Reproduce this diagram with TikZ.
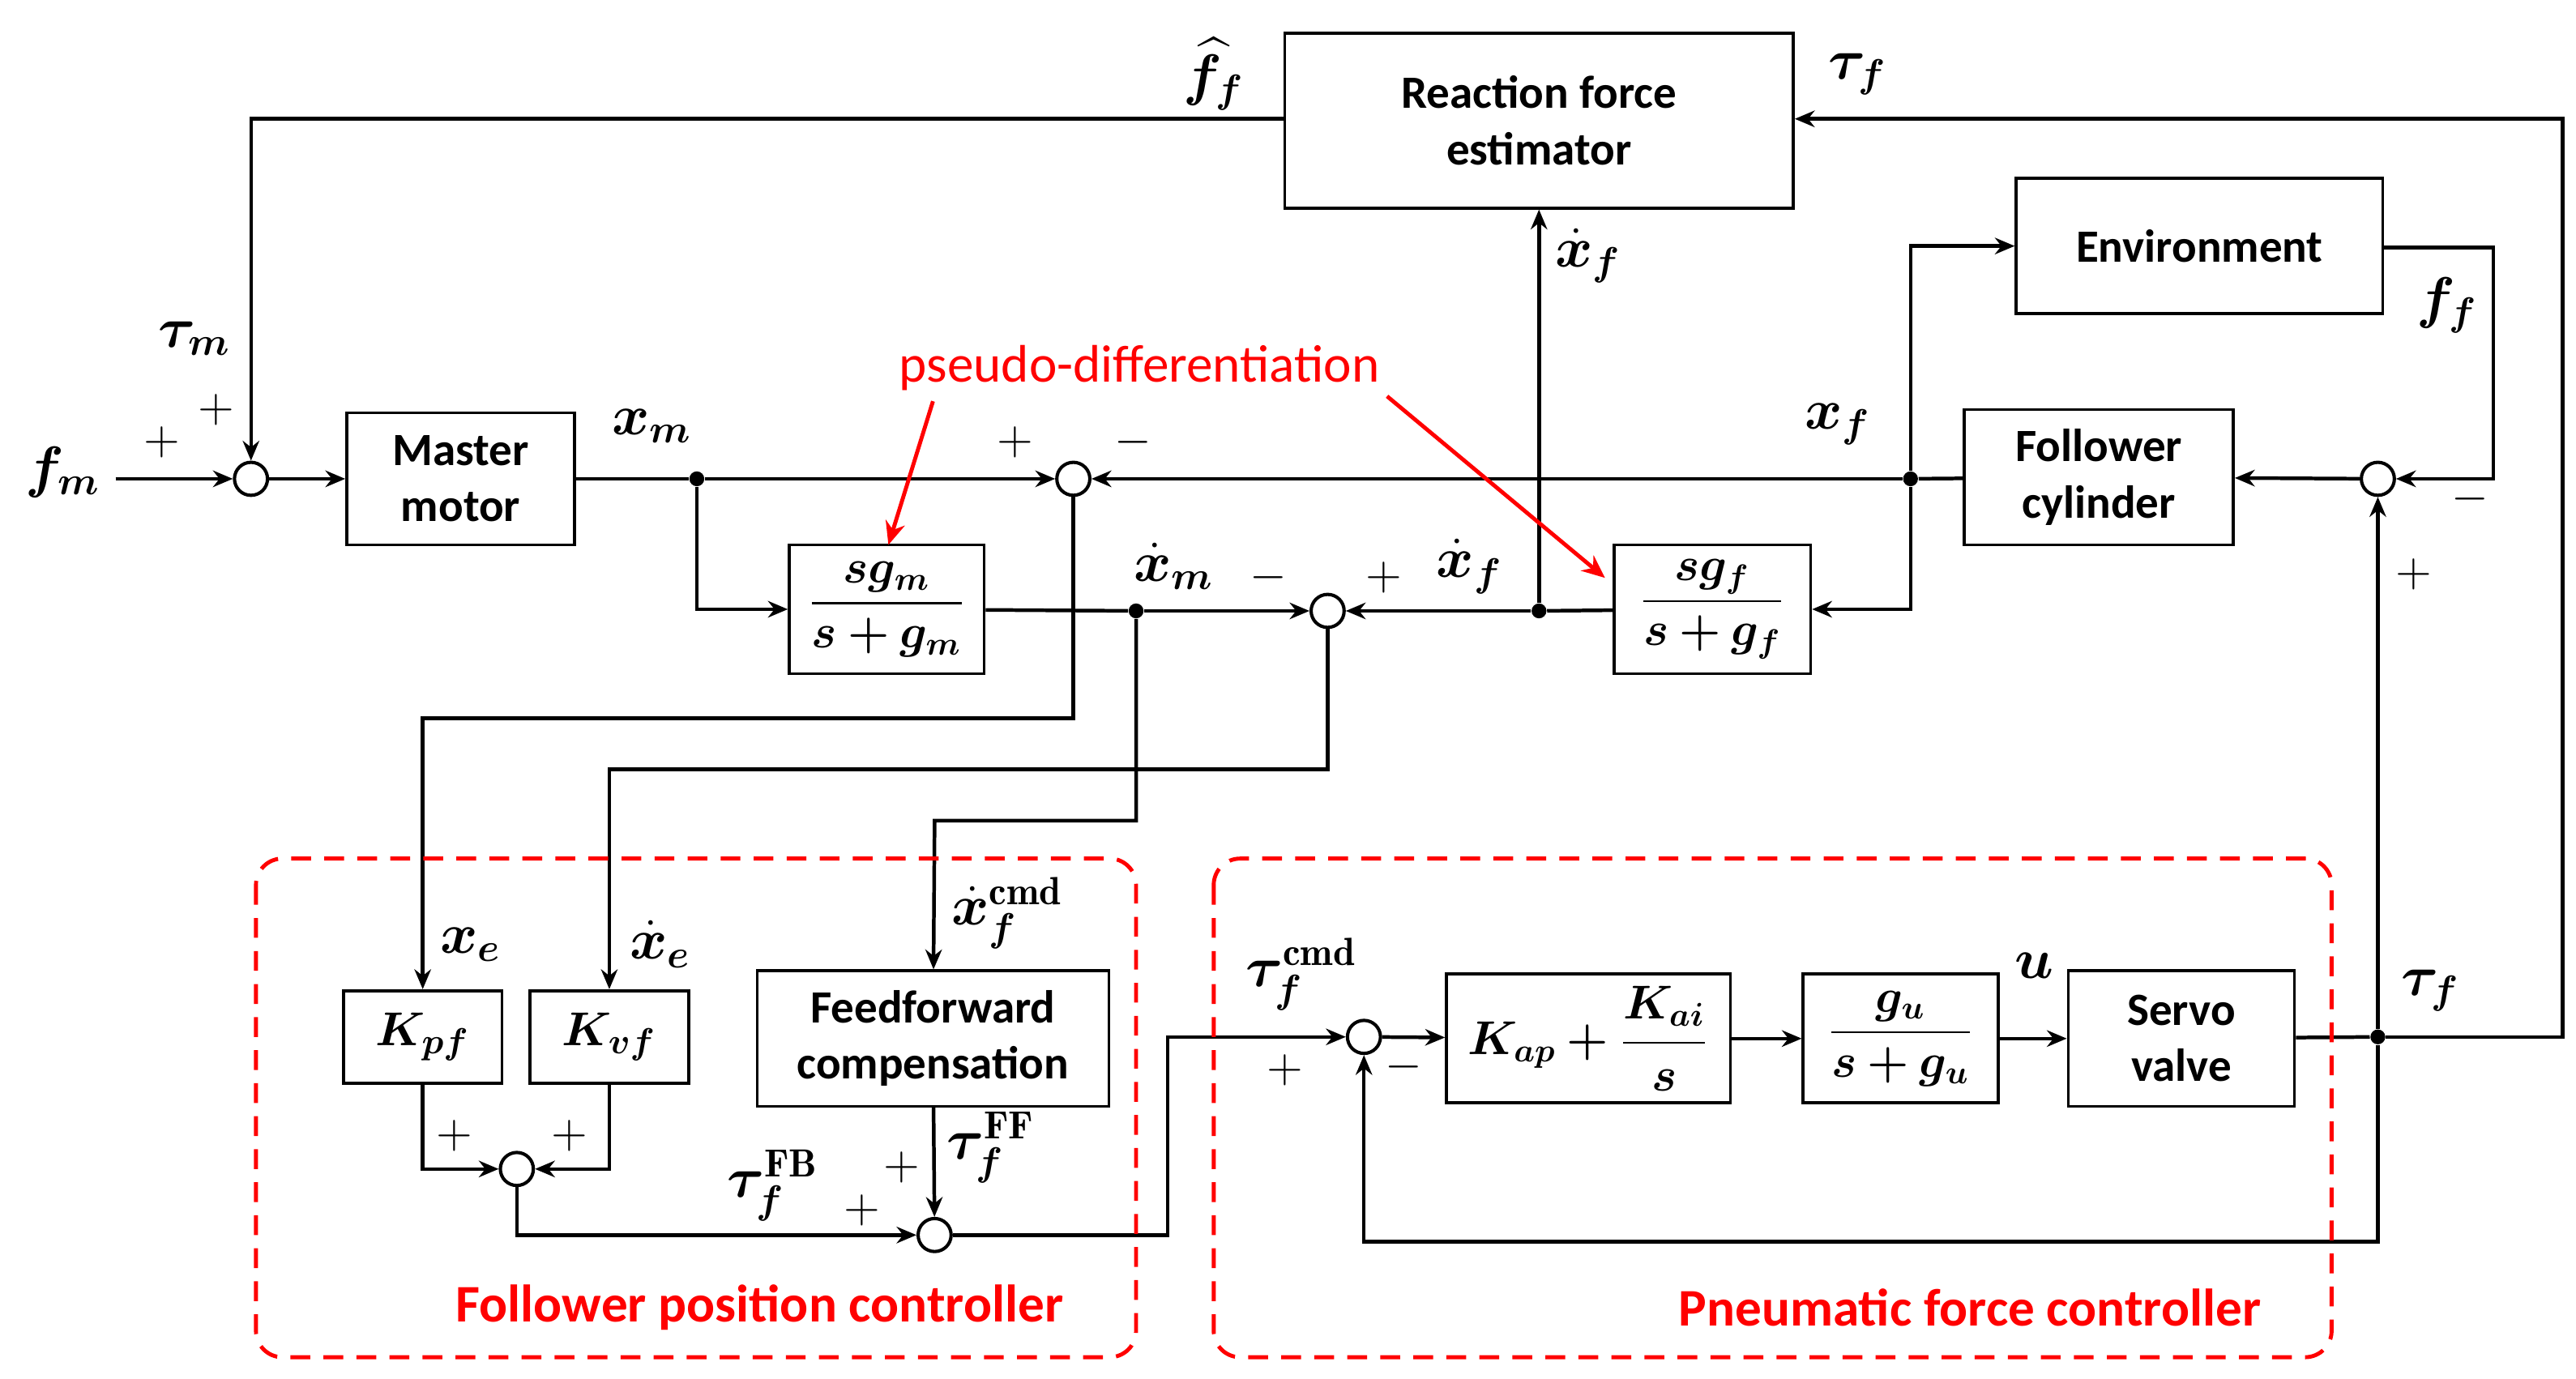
\documentclass[tikz,border=0pt]{standalone}
\usepackage{amsmath,bm}
\usepackage{fontspec}
\newfontfamily\boxfont{Carlito}
\usetikzlibrary{arrows.meta}
\begin{document}
\begin{tikzpicture}[x=0.5pt,y=-0.5pt,
 blk/.style={draw,line width=0.9pt,rectangle,inner sep=0pt,align=center,font=\boxfont\bfseries\fontsize{14}{17}\selectfont},
 sm/.style={draw,line width=1pt,circle,minimum size=10pt,inner sep=0pt},
 jn/.style={fill,circle,minimum size=4.5pt,inner sep=0pt},
 lb/.style={font=\fontsize{17}{18}\selectfont},
 sg/.style={font=\fontsize{15}{16}\selectfont},
 ar/.style={line width=1.1pt,-{Stealth[length=6pt,width=5pt]}},
 ln/.style={line width=1.1pt},
 red dash/.style={draw=red,line width=1.2pt,rounded corners=8pt,dash pattern=on 6pt off 4pt},
 rt/.style={text=red,font=\boxfont\bfseries\fontsize{16}{18}\selectfont}]
\useasboundingbox (0,0) rectangle (1560,835);
% blocks
\node[blk,minimum width=154pt,minimum height=53pt] (est) at (932,73) {Reaction force\\estimator};
\node[blk,minimum width=69pt,minimum height=40pt] (mm) at (279,290) {Master\\motor};
\node[blk,minimum width=59pt,minimum height=39pt] (sgm) at (537,369) {\fontsize{14}{16}\selectfont$\dfrac{\bm{s g_m}}{\bm{s+g_m}}$};
\node[blk,minimum width=59.5pt,minimum height=39pt] (sgf) at (1037,369) {\fontsize{14}{16}\selectfont$\dfrac{\bm{s g_f}}{\bm{s+g_f}}$};
\node[blk,minimum width=111pt,minimum height=41pt] (env) at (1332,149) {Environment};
\node[blk,minimum width=81.5pt,minimum height=41pt] (fc) at (1271,289) {Follower\\cylinder};
\node[blk,minimum width=48pt,minimum height=28pt] (kpf) at (256,628) {\fontsize{15}{16}\selectfont$\bm{K_{pf}}$};
\node[blk,minimum width=48pt,minimum height=28pt] (kvf) at (369,628) {\fontsize{15}{16}\selectfont$\bm{K_{vf}}$};
\node[blk,minimum width=106.5pt,minimum height=41pt] (ff) at (565,629) {Feedforward\\compensation};
\node[blk,minimum width=86pt,minimum height=39pt] (kap) at (962,629) {\fontsize{14}{16}\selectfont$\bm{K_{ap}+\dfrac{K_{ai}}{s}}$};
\node[blk,minimum width=59pt,minimum height=39pt] (gu) at (1151,629) {\fontsize{14}{16}\selectfont$\dfrac{\bm{g_u}}{\bm{s+g_u}}$};
\node[blk,minimum width=68.5pt,minimum height=41pt] (sv) at (1321,629) {Servo\\valve};
% summers and junctions
\node[sm] (s1) at (152,290) {};
\node[sm] (s2) at (650,290) {};
\node[sm] (s3) at (804,370) {};
\node[sm] (s4) at (1440,290) {};
\node[sm] (s5) at (826,628) {};
\node[sm] (s6) at (313,708) {};
\node[sm] (s7) at (566,748) {};
\node[jn] (j1) at (422,290) {};
\node[jn] (j2) at (688,370) {};
\node[jn] (j3) at (932,370) {};
\node[jn] (j4) at (1157,290) {};
\node[jn] (j5) at (1440,628) {};
\coordinate (fin) at (70,290);
\coordinate (c1) at (152,72);
\coordinate (c2) at (1552,72);
\coordinate (c3) at (1510,150);
\coordinate (c4) at (707,628);
% connectors
\draw[ar] (fin) -- (s1);
\draw[ar] (est.west |- c1) -- (c1) -- (s1);
\draw[ar] (s1) -- (mm);
\draw[ln] (mm) -- (j1);
\draw[ar] (j1) -- (s2);
\draw[ar] (j1) |- (sgm);
\draw[ln] (sgm) -- (j2);
\draw[ar] (j2) -- (s3);
\draw[ar] (j3) -- (s3);
\draw[ln] (sgf) -- (j3);
\draw[ar] (j3) -- (est);
\draw[ln] (fc) -- (j4);
\draw[ar] (j4) -- (s2);
\draw[ar] (j4) |- (env);
\draw[ar] (j4) |- (sgf);
\draw[ar] (env.east |- c3) -- (c3) |- (s4);
\draw[ar] (s4) -- (fc);
\draw[ar] (j5) -- (s4);
\draw[ln] (sv) -- (j5);
\draw[ar] (j5) -- (1552,628) -- (c2) -- (est.east |- c2);
\draw[ar] (j5) -- (1440,752) -| (s5);
\draw[ar] (s7) -| (c4) -- (s5);
\draw[ar] (s5) -- (kap);
\draw[ar] (kap) -- (gu);
\draw[ar] (gu) -- (sv);
\draw[ar] (s2) |- (256,435) -- (kpf);
\draw[ar] (s3) |- (369,466) -- (kvf);
\draw[ar] (j2) |- (566,497) -- (ff);
\draw[ar] (kpf) |- (s6);
\draw[ar] (kvf) |- (s6);
\draw[ar] (s6) |- (s7);
\draw[ar] (ff) -- (s7);
% labels
\node[lb] at (38,286) {$\bm{f_m}$};
\node[sg] at (98,268) {$+$};
\node[lb] at (118,205) {$\bm{\tau_m}$};
\node[sg] at (131,248) {$+$};
\node[lb] at (735,45) {$\widehat{\bm{f}}_{\bm f}$};
\node[lb] at (1125,45) {$\bm{\tau_f}$};
\node[lb] at (395,258) {$\bm{x_m}$};
\node[sg] at (615,268) {$+$};
\node[sg] at (686,268) {$-$};
\node[lb] at (711,343) {$\bm{\dot{x}_m}$};
\node[sg] at (768,350) {$-$};
\node[sg] at (838,350) {$+$};
\node[lb] at (890,343) {$\bm{\dot{x}_f}$};
\node[lb] at (962,155) {$\bm{\dot{x}_f}$};
\node[lb] at (1113,257) {$\bm{x_f}$};
\node[lb] at (1482,185) {$\bm{f_f}$};
\node[sg] at (1496,302) {$-$};
\node[sg] at (1462,348) {$+$};
\node[lb] at (1472,600) {$\bm{\tau_f}$};
\node[lb] at (1232,585) {$\bm{u}$};
\node[lb] at (788,590) {$\bm{\tau_f^{\mathrm{cmd}}}$};
\node[sg] at (778,648) {$+$};
\node[sg] at (850,646) {$-$};
\node[lb] at (285,572) {$\bm{x_e}$};
\node[lb] at (400,572) {$\bm{\dot{x}_e}$};
\node[lb] at (610,553) {$\bm{\dot{x}_f^{\mathrm{cmd}}}$};
\node[sg] at (275,688) {$+$};
\node[sg] at (345,688) {$+$};
\node[lb] at (468,718) {$\bm{\tau_f^{\mathrm{FB}}}$};
\node[sg] at (522,733) {$+$};
\node[sg] at (546,707) {$+$};
\node[lb] at (600,695) {$\bm{\tau_f^{\mathrm{FF}}}$};
% red
\draw[red dash] (155,520) rectangle (688,822);
\draw[red dash] (735,520) rectangle (1412,822);
\node[rt] at (460,792) {Follower position controller};
\node[rt] at (1193,792) {Pneumatic force controller};
\node[text=red,font=\boxfont\fontsize{16}{18}\selectfont] (pd) at (690,223) {pseudo-differentiation};
\draw[red,line width=1.2pt,-{Stealth[length=7pt,width=6pt]}] (565,243) -- (538,330);
\draw[red,line width=1.2pt,-{Stealth[length=7pt,width=6pt]}] (840,240) -- (972,350);
\end{tikzpicture}
\end{document}
